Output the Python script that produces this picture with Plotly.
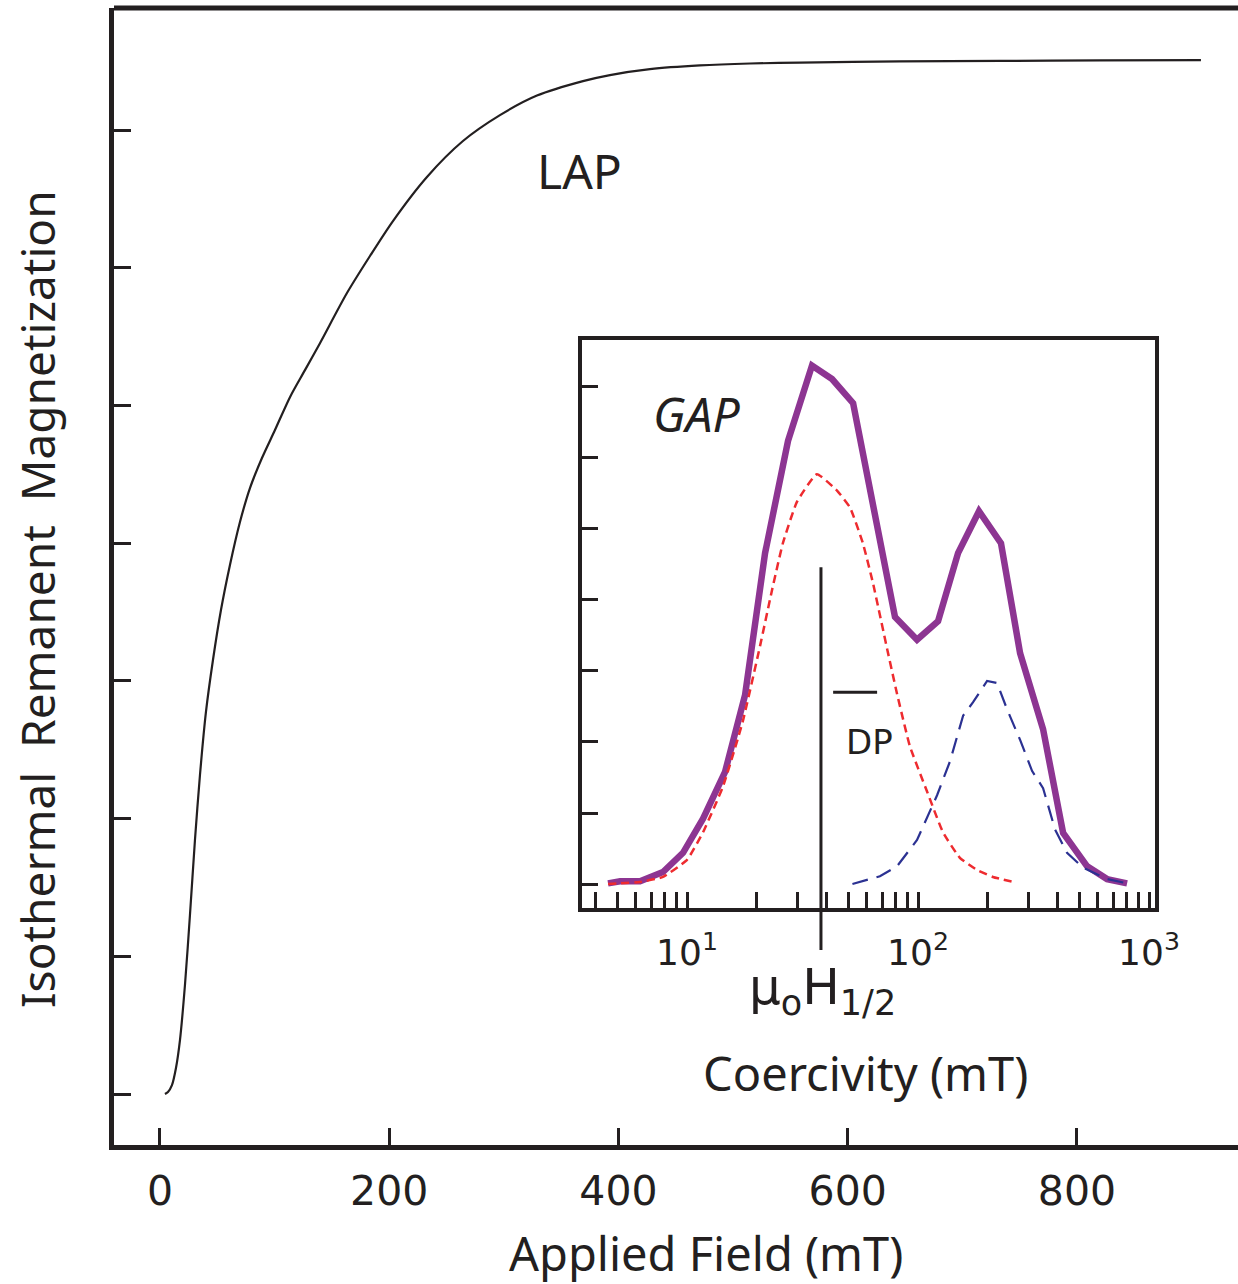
import numpy as np
import plotly.graph_objects as go

# ---------------- data ----------------
# Main IRM acquisition curve (LAP)
irm_field = [4.36, 6.98, 10.47, 13.96, 17.45, 21.81, 26.17, 30.53, 34.90, 40.13, 46.24,
             53.22, 61.07, 69.79, 78.52, 88.99, 100.33, 113.41, 126.50, 139.59, 163.14,
             183.21, 203.27, 232.93, 264.34, 296.62, 328.90, 369.03, 392.58, 427.48,
             471.10, 514.72, 558.34, 645.58, 732.82, 820.07, 908.18]
irm_value = [0.0, 0.015, 0.065, 0.189, 0.392, 0.792, 1.300, 1.845, 2.317, 2.775, 3.152,
             3.515, 3.842, 4.154, 4.401, 4.619, 4.822, 5.061, 5.257, 5.453, 5.817,
             6.086, 6.340, 6.660, 6.921, 7.109, 7.251, 7.356, 7.400, 7.443,
             7.470, 7.484, 7.491, 7.499, 7.503, 7.506, 7.508]
main_xticks = [0, 200, 400, 600, 800]
main_yticks = [0, 1, 2, 3, 4, 5, 6, 7]

# Inset: gradient of acquisition plot (GAP)
gap_field = [4.55, 5.13, 6.26, 7.87, 9.61, 11.73, 14.61, 17.83, 21.77, 27.37, 34.75, 42.44,
             52.35, 64.6, 79.47, 99.0, 122.1, 149.0, 183.6, 228.6, 276.6, 347.8, 424.6,
             539.5, 658.2, 803.5]
gap_total = [0.01, 0.04, 0.04, 0.17, 0.44, 0.92, 1.58, 2.66, 4.66, 6.24, 7.30, 7.11,
             6.77, 5.27, 3.76, 3.44, 3.70, 4.66, 5.25, 4.80, 3.25, 2.18, 0.72,
             0.25, 0.07, 0.01]
low_field = [4.55, 6.26, 7.87, 10.0, 11.73, 14.3, 17.4, 20.7, 23.3, 26.0, 29.9, 36.5,
             44.6, 50.8, 57.7, 63.9, 73.5, 81.1, 92.2, 109.2, 128.2, 151.7, 179.7, 210.8, 257.6]
low_value = [0.0, 0.03, 0.10, 0.34, 0.73, 1.37, 2.28, 3.35, 4.13, 4.80, 5.38, 5.77,
             5.54, 5.30, 4.80, 4.23, 3.31, 2.68, 1.94, 1.31, 0.73, 0.37, 0.20, 0.10, 0.03]
high_field = [52, 68.4, 81.1, 99.0, 120.9, 137.6, 156.7, 173.1, 199.0, 219.9, 242.9,
              276.6, 311.8, 347.8, 391.6, 441.6, 518.0, 658.2, 803.5]
high_value = [0.0, 0.11, 0.25, 0.62, 1.25, 1.73, 2.37, 2.56, 2.86, 2.83, 2.46,
              2.03, 1.59, 1.35, 0.77, 0.44, 0.23, 0.07, 0.01]
inset_xticks = [4, 5, 6, 7, 8, 9, 10, 20, 30, 40, 50, 60, 70, 80, 90, 100,
                200, 300, 400, 500, 600, 700, 800, 900, 1000]
inset_xlabels = {10: "10<sup>1</sup>", 100: "10<sup>2</sup>", 1000: "10<sup>3</sup>"}
inset_yticks = [0, 1, 2, 3, 4, 5, 6, 7]
dp_field = 38.0          # median destructive field marker
dp_top = 4.46
dp_bar = (42.9, 66.5, 2.70)

# ---------------- styling ----------------
INK = "#231F20"
NUM_FONT = "DejaVu Sans"
TXT_FONT = "Noto Sans"
W, H = 1238, 1284
ML, MR, MT, MB = 114, 0, 8, 139

x_range = [-40.1, 940.5]
y_range = [-0.370, 7.887]
x2_range = [0.5455, 3.026]
y2_range = [-0.338, 7.66]
x2_domain = [0.4164, 0.9262]
y2_domain = [0.2084, 0.7080]

fig = go.Figure()

fig.add_trace(go.Scatter(x=irm_field, y=irm_value, mode="lines",
                         line=dict(color=INK, width=2.2, shape="spline", smoothing=0.8),
                         xaxis="x", yaxis="y", showlegend=False, hoverinfo="skip"))

fig.add_trace(go.Scatter(x=gap_field, y=gap_total, mode="lines",
                         line=dict(color="#8D3592", width=6.5),
                         xaxis="x2", yaxis="y2", showlegend=False))
fig.add_trace(go.Scatter(x=low_field, y=low_value, mode="lines",
                         line=dict(color="#EE2B2F", width=2.5, dash="8px,5px", shape="spline", smoothing=0.4),
                         xaxis="x2", yaxis="y2", showlegend=False))
fig.add_trace(go.Scatter(x=high_field, y=high_value, mode="lines",
                         line=dict(color="#2B3192", width=2.2, dash="16px,9px"),
                         xaxis="x2", yaxis="y2", showlegend=False))


def y2_to_paper(v):
    return y2_domain[0] + (v - y2_range[0]) / (y2_range[1] - y2_range[0]) * (y2_domain[1] - y2_domain[0])


plot_w = W - ML - MR
plot_h = H - MT - MB


def px_to_paper(px, py):
    return (px - ML) / plot_w, (H - MB - py) / plot_h


shapes = [
    # top frame line of main plot
    dict(type="line", xref="paper", yref="paper", x0=0, x1=1, y0=1, y1=1,
         line=dict(color=INK, width=5)),
    # DP vertical marker (extends below inset axis)
    dict(type="line", xref="x2", yref="paper", x0=dp_field, x1=dp_field,
         y0=y2_domain[0] - 42 / plot_h, y1=y2_to_paper(dp_top),
         line=dict(color=INK, width=3)),
    # DP bar
    dict(type="line", xref="x2", yref="y2", x0=dp_bar[0], x1=dp_bar[1],
         y0=dp_bar[2], y1=dp_bar[2], line=dict(color=INK, width=3)),
]

ax_t = px_to_paper(706, 1253)
ay_t = px_to_paper(37, 599)
mu_t = px_to_paper(822, 990)
co_t = px_to_paper(865, 1073)

C = dict(xanchor="center", yanchor="middle", showarrow=False)
annotations = [
    dict(text="Applied Field (mT)", x=ax_t[0], y=ax_t[1], xref="paper", yref="paper",
         font=dict(family=TXT_FONT, size=47, color=INK), **C),
    dict(text="Isothermal  Remanent  Magnetization", x=ay_t[0], y=ay_t[1], xref="paper",
         yref="paper", textangle=-90,
         font=dict(family=TXT_FONT, size=46, color=INK), **C),
    dict(text="LAP", x=366.4, y=6.71, xref="x", yref="y",
         font=dict(family=TXT_FONT, size=48, color=INK), **C),
    dict(text="<i>GAP</i>", x=np.log10(11.05), y=6.63, xref="x2", yref="y2",
         font=dict(family=TXT_FONT, size=48, color=INK), **C),
    dict(text="DP", x=np.log10(61.9), y=2.0, xref="x2", yref="y2",
         font=dict(family=NUM_FONT, size=34, color=INK), **C),
    dict(text="\u03bc<sub>o</sub>H<sub>1/2</sub>", x=mu_t[0], y=mu_t[1], xref="paper",
         yref="paper", font=dict(family=NUM_FONT, size=50, color=INK), **C),
    dict(text="Coercivity (mT)", x=co_t[0], y=co_t[1], xref="paper", yref="paper",
         font=dict(family=TXT_FONT, size=47, color=INK), **C),
]

fig.update_layout(
    width=W, height=H, autosize=False,
    margin=dict(l=ML, r=MR, t=MT, b=MB, pad=0, autoexpand=False),
    paper_bgcolor="white", plot_bgcolor="white",
    showlegend=False,
    xaxis=dict(range=x_range, domain=[0, 1], anchor="y", showgrid=False, zeroline=False,
               automargin=False,
               showline=True, linewidth=5, linecolor=INK,
               ticks="inside", ticklen=17, tickwidth=2.5, tickcolor=INK,
               tickvals=main_xticks, ticktext=[str(v) for v in main_xticks],
               tickfont=dict(family=NUM_FONT, size=41, color=INK), ticklabelstandoff=6),
    yaxis=dict(range=y_range, domain=[0, 1], anchor="x", showgrid=False, zeroline=False,
               automargin=False,
               showline=True, linewidth=5, linecolor=INK,
               ticks="inside", ticklen=17, tickwidth=2.5, tickcolor=INK,
               tickvals=main_yticks, showticklabels=False),
    xaxis2=dict(type="log", range=x2_range, domain=x2_domain, anchor="y2", showgrid=False,
                zeroline=False, automargin=False,
                showline=True, mirror=True, linewidth=4, linecolor=INK,
                ticks="inside", ticklen=16, tickwidth=2.5, tickcolor=INK,
                tickvals=inset_xticks,
                ticktext=[inset_xlabels.get(v, "") for v in inset_xticks],
                tickfont=dict(family=NUM_FONT, size=36, color=INK), ticklabelstandoff=10),
    yaxis2=dict(range=y2_range, domain=y2_domain, anchor="x2", showgrid=False, zeroline=False,
                automargin=False,
                showline=True, mirror=True, linewidth=4, linecolor=INK,
                ticks="inside", ticklen=16, tickwidth=2.5, tickcolor=INK,
                tickvals=inset_yticks, showticklabels=False),
    shapes=shapes,
    annotations=annotations,
)

fig.write_html("out.html")
